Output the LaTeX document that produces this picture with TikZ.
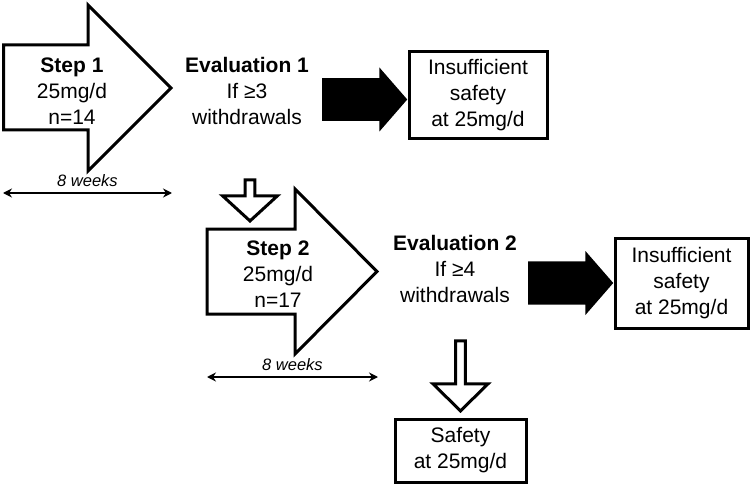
\documentclass[tikz,border=0pt]{standalone}
\usepackage{fontspec}
\setmainfont{Liberation Sans}
\usetikzlibrary{arrows.meta,positioning,shapes.arrows}

\begin{document}
\begin{tikzpicture}[
  x=1pt,y=-1pt,
  txt/.style={align=center,font=\fontsize{21}{26}\selectfont},
  box/.style={txt,draw,line width=3pt,inner sep=0pt},
  stepshape/.style={draw,line width=3pt,line join=miter,fill=white},
  hollowdown/.style={single arrow,draw,line width=3pt,fill=white,inner xsep=0pt,inner ysep=12.5pt,minimum width=55pt,shape border rotate=270,anchor=tip},
  blackright/.style={single arrow,fill=black,inner xsep=0pt,inner ysep=14pt,minimum height=85pt,minimum width=64pt,single arrow tip angle=98,anchor=tip},
  span/.style={{Stealth[length=9pt,width=9pt]}-{Stealth[length=9pt,width=9pt]},line width=1.8pt},
  dur/.style={font=\fontsize{16.5}{18}\selectfont\itshape}
]
\useasboundingbox (0,0) rectangle (750,484);

\draw[stepshape] (3.5,45) -- (88,45) -- (88,5) -- (171,88) -- (88,171) -- (88,130) -- (3.5,130) -- cycle;
\draw[stepshape] (207,229) -- (295,229) -- (295,189) -- (377,271.5) -- (295,354) -- (295,314) -- (207,314) -- cycle;

\node[txt] (step1) at (72,91) {\textbf{Step 1}\\25mg/d\\n=14};
\node[txt] (eval1) at (247,91) {\textbf{Evaluation 1}\\If ≥3\\withdrawals};
\node[box,minimum width=138pt,minimum height=87pt] (insuff1) at (478,95.5) {Insufficient\\safety\\at 25mg/d};
\node[txt] (step2) at (278,274) {\textbf{Step 2}\\25mg/d\\n=17};
\node[txt] (eval2) at (455,269) {\textbf{Evaluation 2}\\If ≥4\\withdrawals};
\node[box,minimum width=133pt,minimum height=90pt] (insuff2) at (681.5,283) {Insufficient\\safety\\at 25mg/d};
\node[box,minimum width=131pt,minimum height=63pt] (safety) at (460.5,450.5) {Safety\\at 25mg/d};

\node[blackright] (stop1) at ([yshift=-4pt]insuff1.west) {};
\node[blackright,inner ysep=14.5pt] (stop2) at (insuff2.west) {};
\node[hollowdown,minimum height=41pt,single arrow tip angle=95] (next1) at (250,223) {};
\node[hollowdown,minimum height=70pt,single arrow tip angle=91] (next2) at ([yshift=4.5pt]safety.north) {};

\coordinate (w1a) at (3,193);
\coordinate (w1b) at (172,193);
\coordinate (w2a) at (207,377);
\coordinate (w2b) at (378,377);
\draw[span] (w1a) -- (w1b) node[dur,midway,above=2pt] {8 weeks};
\draw[span] (w2a) -- (w2b) node[dur,midway,above=2pt] {8 weeks};
\end{tikzpicture}
\end{document}
